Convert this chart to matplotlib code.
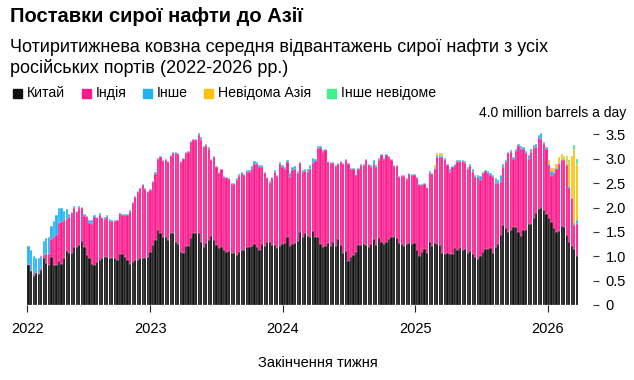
import numpy as np
import pandas as pd
import matplotlib
matplotlib.use("Agg")
import matplotlib.pyplot as plt
from matplotlib.patches import Rectangle

plt.rcParams['font.family'] = ['Liberation Sans', 'DejaVu Sans']

# weekly 4-week moving average, million barrels a day
weeks = pd.date_range("2022-01-30", periods=217, freq="7D")

china = [
    0.82, 0.69, 0.60, 0.65, 0.63, 0.72, 0.96, 0.87, 0.82, 0.99,
    0.82, 0.82, 0.91, 0.85, 0.96, 1.11, 1.06, 1.06, 1.20, 1.18,
    1.24, 1.32, 1.20, 1.02, 0.96, 0.85, 0.83, 0.89, 0.92, 0.96,
    0.98, 0.99, 0.97, 0.96, 0.97, 0.92, 1.05, 1.05, 0.99, 0.92,
    0.85, 0.89, 0.92, 0.93, 0.96, 0.96, 0.96, 0.99, 1.09, 1.23,
    1.33, 1.54, 1.47, 1.40, 1.40, 1.33, 1.47, 1.48, 1.30, 1.25,
    1.09, 1.07, 1.21, 1.21, 1.37, 1.47, 1.47, 1.47, 1.30, 1.20,
    1.28, 1.33, 1.41, 1.33, 1.23, 1.16, 1.20, 1.13, 1.09, 1.11,
    1.06, 1.06, 1.02, 1.09, 1.13, 1.13, 1.20, 1.20, 1.21, 1.25,
    1.20, 1.13, 1.26, 1.21, 1.30, 1.30, 1.23, 1.23, 1.16, 1.21,
    1.25, 1.28, 1.40, 1.21, 1.25, 1.28, 1.32, 1.50, 1.40, 1.48,
    1.41, 1.39, 1.52, 1.40, 1.40, 1.26, 1.20, 1.22, 1.28, 1.22,
    1.30, 1.22, 1.35, 1.23, 1.07, 1.11, 0.90, 0.98, 1.02, 1.09,
    1.23, 1.23, 1.26, 1.23, 1.20, 1.25, 1.35, 1.23, 1.37, 1.30,
    1.25, 1.30, 1.35, 1.40, 1.40, 1.38, 1.28, 1.26, 1.21, 1.26,
    1.28, 1.25, 1.28, 1.13, 1.00, 1.09, 1.14, 1.07, 1.30, 1.21,
    1.28, 1.25, 1.23, 1.07, 1.05, 1.07, 1.05, 1.05, 1.16, 1.13,
    1.16, 1.13, 1.14, 1.07, 1.11, 1.05, 0.98, 0.94, 1.00, 1.09,
    1.14, 1.14, 1.16, 1.07, 1.20, 1.26, 1.43, 1.64, 1.57, 1.50,
    1.54, 1.59, 1.61, 1.50, 1.41, 1.54, 1.54, 1.66, 1.66, 1.78,
    1.88, 1.96, 1.98, 1.95, 1.86, 1.78, 1.71, 1.57, 1.50, 1.52,
    1.62, 1.61, 1.43, 1.30, 1.21, 1.14, 1.00,
]

india = [
    0.03, 0.03, 0.03, 0.03, 0.02, 0.03, 0.06, 0.17, 0.23, 0.36,
    0.57, 0.61, 0.78, 0.86, 0.78, 0.65, 0.74, 0.82, 0.80, 0.73,
    0.76, 0.66, 0.62, 0.78, 0.73, 0.82, 0.98, 0.89, 0.92, 0.82,
    0.78, 0.81, 0.76, 0.77, 0.76, 0.82, 0.83, 0.79, 0.85, 0.92,
    1.06, 1.21, 1.30, 1.39, 1.43, 1.50, 1.41, 1.33, 1.27, 1.30,
    1.36, 1.46, 1.56, 1.55, 1.58, 1.61, 1.58, 1.63, 1.81, 1.84,
    1.85, 1.93, 1.90, 1.93, 1.98, 1.91, 1.91, 2.01, 2.09, 2.04,
    2.00, 1.88, 1.57, 1.71, 1.60, 1.54, 1.58, 1.49, 1.51, 1.47,
    1.43, 1.43, 1.54, 1.55, 1.57, 1.53, 1.53, 1.53, 1.59, 1.65,
    1.70, 1.70, 1.57, 1.49, 1.30, 1.21, 1.37, 1.50, 1.48, 1.69,
    1.58, 1.52, 1.54, 1.42, 1.52, 1.52, 1.38, 1.42, 1.33, 1.27,
    1.32, 1.41, 1.40, 1.56, 1.83, 1.97, 1.94, 1.96, 1.66, 1.70,
    1.62, 1.63, 1.55, 1.71, 1.82, 1.86, 1.99, 1.82, 1.78, 1.57,
    1.57, 1.64, 1.61, 1.74, 1.67, 1.58, 1.55, 1.60, 1.61, 1.77,
    1.75, 1.77, 1.69, 1.57, 1.45, 1.47, 1.35, 1.38, 1.43, 1.32,
    1.40, 1.41, 1.38, 1.47, 1.46, 1.37, 1.35, 1.32, 1.40, 1.47,
    1.52, 1.78, 1.81, 1.96, 1.93, 1.80, 1.68, 1.78, 1.71, 1.81,
    1.79, 1.82, 1.78, 1.73, 1.74, 1.68, 1.64, 1.68, 1.56, 1.61,
    1.61, 1.57, 1.50, 1.56, 1.31, 1.25, 1.10, 1.19, 1.37, 1.61,
    1.60, 1.41, 1.55, 1.76, 1.80, 1.65, 1.57, 1.34, 1.48, 1.45,
    1.36, 1.46, 1.42, 1.36, 1.35, 1.09, 0.93, 1.13, 1.30, 1.38,
    1.35, 1.37, 1.45, 1.09, 0.98, 0.50, 0.66,
]

other = [
    0.36, 0.41, 0.37, 0.28, 0.31, 0.25, 0.29, 0.33, 0.35, 0.27,
    0.33, 0.41, 0.29, 0.27, 0.19, 0.20, 0.06, 0.03, 0.03, 0.02,
    0.03, 0.03, 0.04, 0.02, 0.05, 0.08, 0.03, 0.03, 0.04, 0.02,
    0.05, 0.04, 0.03, 0.01, 0.01, 0.00, 0.01, 0.02, 0.02, 0.02,
    0.04, 0.02, 0.02, 0.02, 0.02, 0.02, 0.02, 0.02, 0.01, 0.02,
    0.04, 0.02, 0.02, 0.02, 0.02, 0.02, 0.02, 0.03, 0.02, 0.03,
    0.02, 0.02, 0.02, 0.02, 0.02, 0.02, 0.02, 0.04, 0.06, 0.02,
    0.03, 0.03, 0.02, 0.02, 0.02, 0.02, 0.02, 0.02, 0.02, 0.02,
    0.02, 0.02, 0.04, 0.04, 0.03, 0.02, 0.04, 0.04, 0.05, 0.06,
    0.04, 0.04, 0.04, 0.02, 0.03, 0.03, 0.02, 0.03, 0.02, 0.04,
    0.04, 0.03, 0.03, 0.08, 0.06, 0.05, 0.05, 0.02, 0.04, 0.03,
    0.07, 0.07, 0.09, 0.03, 0.03, 0.03, 0.04, 0.03, 0.02, 0.02,
    0.02, 0.02, 0.02, 0.02, 0.02, 0.02, 0.02, 0.02, 0.02, 0.02,
    0.02, 0.02, 0.02, 0.02, 0.02, 0.04, 0.07, 0.04, 0.04, 0.02,
    0.02, 0.02, 0.02, 0.02, 0.02, 0.02, 0.02, 0.02, 0.02, 0.02,
    0.02, 0.02, 0.02, 0.02, 0.02, 0.02, 0.02, 0.03, 0.05, 0.03,
    0.02, 0.05, 0.04, 0.03, 0.03, 0.02, 0.07, 0.03, 0.03, 0.04,
    0.03, 0.03, 0.04, 0.03, 0.05, 0.05, 0.04, 0.04, 0.08, 0.03,
    0.02, 0.04, 0.05, 0.03, 0.09, 0.05, 0.14, 0.06, 0.03, 0.03,
    0.04, 0.04, 0.03, 0.04, 0.05, 0.05, 0.05, 0.07, 0.05, 0.05,
    0.07, 0.06, 0.13, 0.04, 0.04, 0.03, 0.10, 0.02, 0.02, 0.02,
    0.02, 0.02, 0.02, 0.05, 0.01, 0.04, 0.09,
]

# nothing recorded for the unknown destinations until late 2024
unknown_asia = ([0.0] * 160 + [0.05, 0.03, 0.03, 0.05] + [0.0] * 41
                + [0.08, 0.08, 0.10, 0.07, 0.11, 0.10, 0.05, 0.13, 0.50, 0.85, 1.50, 1.15])
other_unknown = [0.0] * 212 + [0.03, 0.03, 0.0, 0.10, 0.10]

df = pd.DataFrame({
    "Китай": china,
    "Індія": india,
    "Інше": other,
    "Невідома Азія": unknown_asia,
    "Інше невідоме": other_unknown,
}, index=weeks)

colors = ["#111111", "#fc1a8e", "#22b2f2", "#fdc10c", "#3ff08f"]

W, H = 634, 380
fig = plt.figure(figsize=(W / 100, H / 100), dpi=100)
ax = fig.add_axes([27.3 / W, 75 / H, (593 - 27.3) / W, 195 / H])

bottom = np.zeros(len(df))
for col, c in zip(df.columns, colors):
    ax.bar(df.index, df[col].values, bottom=bottom, width=6.2, color=c,
           edgecolor="white", linewidth=0.15)
    bottom += df[col].values

x0 = weeks[0] - pd.Timedelta(days=3.5)
ax.set_xlim(x0, x0 + pd.Timedelta(days=1560))
ax.set_ylim(0, 4.0)

for s in ax.spines.values():
    s.set_visible(False)

# y axis on the right
ax.yaxis.tick_right()
yt = [0, 0.5, 1.0, 1.5, 2.0, 2.5, 3.0, 3.5]
ax.set_yticks(yt)
ax.set_yticklabels(["0", "0.5", "1.0", "1.5", "2.0", "2.5", "3.0", "3.5"])
ax.tick_params(axis="y", length=4, width=0.8, color="#333333", pad=5, labelsize=10.5)

xt = [x0, pd.Timestamp("2023-01-01"), pd.Timestamp("2024-01-01"),
      pd.Timestamp("2025-01-01"), pd.Timestamp("2026-01-01")]
ax.set_xticks(xt)
ax.set_xticklabels(["2022", "2023", "2024", "2025", "2026"])
ax.tick_params(axis="x", length=5, width=0.8, color="#222222", pad=7, labelsize=10.5)
ax.get_xticklines()[0].set_color("#999999")

fig.text(626 / W, 1 - 113 / H, "4.0 million barrels a day", ha="right", va="center", fontsize=10)

fig.text(10 / W, 1 - 17 / H, "Поставки сирої нафти до Азії", fontsize=14.5,
         fontweight="bold", va="center")
fig.text(10 / W, 1 - 47 / H, "Чотиритижнева ковзна середня відвантажень сирої нафти з усіх",
         fontsize=13, va="center")
fig.text(10 / W, 1 - 68 / H, "російських портів (2022-2026 рр.)", fontsize=13, va="center")

# legend row
leg_x = [13, 82, 143, 204, 327]
for x, c, name in zip(leg_x, colors, df.columns):
    fig.patches.append(Rectangle((x / W, (1 - 97.5 / H)), 9 / W, 9 / H,
                                 transform=fig.transFigure, color=c, figure=fig))
    fig.text((x + 14) / W, 1 - 93 / H, name, fontsize=10.2, va="center")

fig.text(318 / W, 1 - 363 / H, "Закінчення тижня", ha="center", va="center", fontsize=10.5)

fig.savefig("out.png", dpi=100)
